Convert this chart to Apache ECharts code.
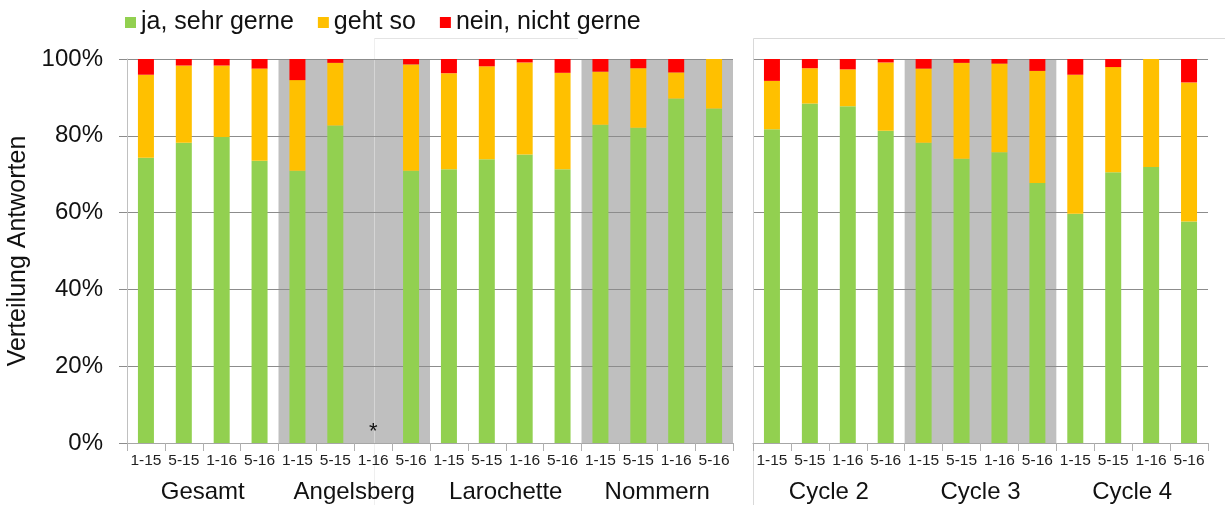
<!DOCTYPE html>
<html>
<head>
<meta charset="utf-8">
<script src="https://cdn.jsdelivr.net/npm/echarts@6/dist/echarts.min.js"></script>
<style>
html,body{margin:0;padding:0;background:#fff;}
#chart{width:1225px;height:505px;}
</style>
</head>
<body>
<div id="chart"></div>
<script>
// ---- data ----
const subCats = ['1-15', '5-15', '1-16', '5-16'];
const schoolGroups = ['Gesamt', 'Angelsberg', 'Larochette', 'Nommern'];
const cycleGroups = ['Cycle 2', 'Cycle 3', 'Cycle 4'];
const seriesNames = ['ja, sehr gerne', 'geht so', 'nein, nicht gerne'];
const yTicks = [0, 20, 40, 60, 80, 100];

const schoolGreen  = [74.3, 78.2, 79.7, 73.5, 70.9, 82.7, null, 70.9, 71.3, 73.9, 75.1, 71.3, 82.9, 82.1, 89.7, 87.1];
const schoolYellow = [21.6, 20.1, 18.6, 24.0, 23.6, 16.3, null, 27.7, 25.0, 24.2, 24.0, 25.1, 13.8, 15.5, 6.8, 12.9];
const schoolRed    = [4.1, 1.7, 1.7, 2.5, 5.5, 1.0, null, 1.4, 3.7, 1.9, 0.9, 3.6, 3.3, 2.4, 3.5, 0];

const cycleGreen  = [81.7, 88.4, 87.7, 81.3, 78.2, 74.0, 75.7, 67.7, 59.7, 70.5, 71.9, 57.7];
const cycleYellow = [12.6, 9.2, 9.6, 17.8, 19.3, 25.0, 23.1, 29.2, 36.2, 27.4, 28.1, 36.2];
const cycleRed    = [5.7, 2.4, 2.7, 0.9, 2.5, 1.0, 1.2, 3.1, 4.1, 2.1, 0, 6.1];

const schoolShade = [null, 100, null, 100];
const cycleShade = [null, 100, null];
const missingMark = { index: 6, value: 3, text: '*' };

// ---- styles ----
const FONT = "'Liberation Sans', Arial, sans-serif";
const colors = ['#92D050', '#FFC000', '#FF0000'];
const shadeColor = '#BFBFBF';
const gridColor = '#8C8C8C';

const schoolCats = [];
schoolGroups.forEach(() => subCats.forEach(c => schoolCats.push(c)));
const cycleCats = [];
cycleGroups.forEach(() => subCats.forEach(c => cycleCats.push(c)));

function subAxis(gridIndex, data) {
  return {
    type: 'category', gridIndex, data, position: 'bottom', z: 1,
    axisLine: { show: true, lineStyle: { color: '#A6A6A6' } },
    axisTick: { show: true, length: 8, lineStyle: { color: '#B0B0B0' } },
    axisLabel: { interval: 0, fontSize: 15.5, color: '#222', fontFamily: FONT, margin: 10 }
  };
}
function groupAxis(gridIndex, data) {
  return {
    type: 'category', gridIndex, data, position: 'bottom', z: 1,
    axisLine: { show: false }, axisTick: { show: false },
    axisLabel: { interval: 0, fontSize: 24, color: '#111', fontFamily: FONT, margin: 37 }
  };
}

const series = [];
// shaded group backgrounds
series.push({ type: 'bar', xAxisIndex: 1, yAxisIndex: 0, data: schoolShade, barWidth: '100%', z: 0, silent: true,
  itemStyle: { color: shadeColor } });
series.push({ type: 'bar', xAxisIndex: 3, yAxisIndex: 1, data: cycleShade, barWidth: '100%', z: 0, silent: true,
  itemStyle: { color: shadeColor } });

const schoolVals = [schoolGreen, schoolYellow, schoolRed];
const cycleVals = [cycleGreen, cycleYellow, cycleRed];
seriesNames.forEach((n, i) => {
  series.push({ name: n, type: 'bar', stack: 'school', xAxisIndex: 0, yAxisIndex: 0, barWidth: 16, z: 2,
    data: schoolVals[i], itemStyle: { color: colors[i] } });
});
seriesNames.forEach((n, i) => {
  series.push({ name: n, type: 'bar', stack: 'cycle', xAxisIndex: 2, yAxisIndex: 1, barWidth: 16, z: 2,
    data: cycleVals[i], itemStyle: { color: colors[i] } });
});
// missing-data marker
series.push({ type: 'scatter', xAxisIndex: 0, yAxisIndex: 0, symbolSize: 0, z: 3, silent: true,
  data: [],
  markPoint: { symbol: 'circle', symbolSize: 0, silent: true,
    data: [{ coord: [missingMark.index, missingMark.value] }],
    label: { show: true, position: 'inside', formatter: missingMark.text, fontSize: 22, color: '#111', fontFamily: FONT } } });

const faint = '#E4E4E4';
const option = {
  animation: false,
  textStyle: { fontFamily: FONT },
  legend: {
    data: seriesNames, left: 120, top: 5, icon: 'rect', itemWidth: 11, itemHeight: 11, itemGap: 24,
    textStyle: { fontSize: 25, color: '#111', fontFamily: FONT }
  },
  graphic: [
    { type: 'line', z: 1, silent: true, shape: { x1: 374.5, y1: 38.5, x2: 374.5, y2: 505 }, style: { stroke: faint, lineWidth: 1, opacity: 0.6 } },
    { type: 'line', z: 1, silent: true, shape: { x1: 374.5, y1: 38.5, x2: 578, y2: 38.5 }, style: { stroke: faint, lineWidth: 1 } },
    { type: 'line', z: 1, silent: true, shape: { x1: 753.5, y1: 38.5, x2: 753.5, y2: 505 }, style: { stroke: '#D9D9D9', lineWidth: 1 } },
    { type: 'line', z: 1, silent: true, shape: { x1: 753.5, y1: 38.5, x2: 1225, y2: 38.5 }, style: { stroke: '#D9D9D9', lineWidth: 1 } }
  ],
  grid: [
    { left: 127, right: 492, top: 59, bottom: 62 },
    { left: 753, right: 17, top: 59, bottom: 62 }
  ],
  xAxis: [subAxis(0, schoolCats), groupAxis(0, schoolGroups), subAxis(1, cycleCats), groupAxis(1, cycleGroups)],
  yAxis: [
    { type: 'value', gridIndex: 0, min: yTicks[0], max: yTicks[yTicks.length - 1], interval: 20, z: 1,
      name: 'Verteilung Antworten', nameLocation: 'middle', nameRotate: 90, nameGap: 96,
      nameTextStyle: { fontSize: 25, color: '#111', fontFamily: FONT },
      axisLine: { show: true, lineStyle: { color: '#C0C0C0' } },
      axisTick: { show: true, length: 8, lineStyle: { color: gridColor } },
      splitLine: { show: true, lineStyle: { color: gridColor, width: 1 } },
      axisLabel: { formatter: '{value}%', fontSize: 24, color: '#111', fontFamily: FONT, margin: 24 } },
    { type: 'value', gridIndex: 1, min: yTicks[0], max: yTicks[yTicks.length - 1], interval: 20, z: 1,
      axisLine: { show: true, lineStyle: { color: '#D0D0D0' } },
      axisTick: { show: false },
      splitLine: { show: true, lineStyle: { color: gridColor, width: 1 } },
      axisLabel: { show: false } }
  ],
  series
};

const chart = echarts.init(document.getElementById('chart'), null, { renderer: 'canvas' });
chart.setOption(option);
</script>
</body>
</html>
